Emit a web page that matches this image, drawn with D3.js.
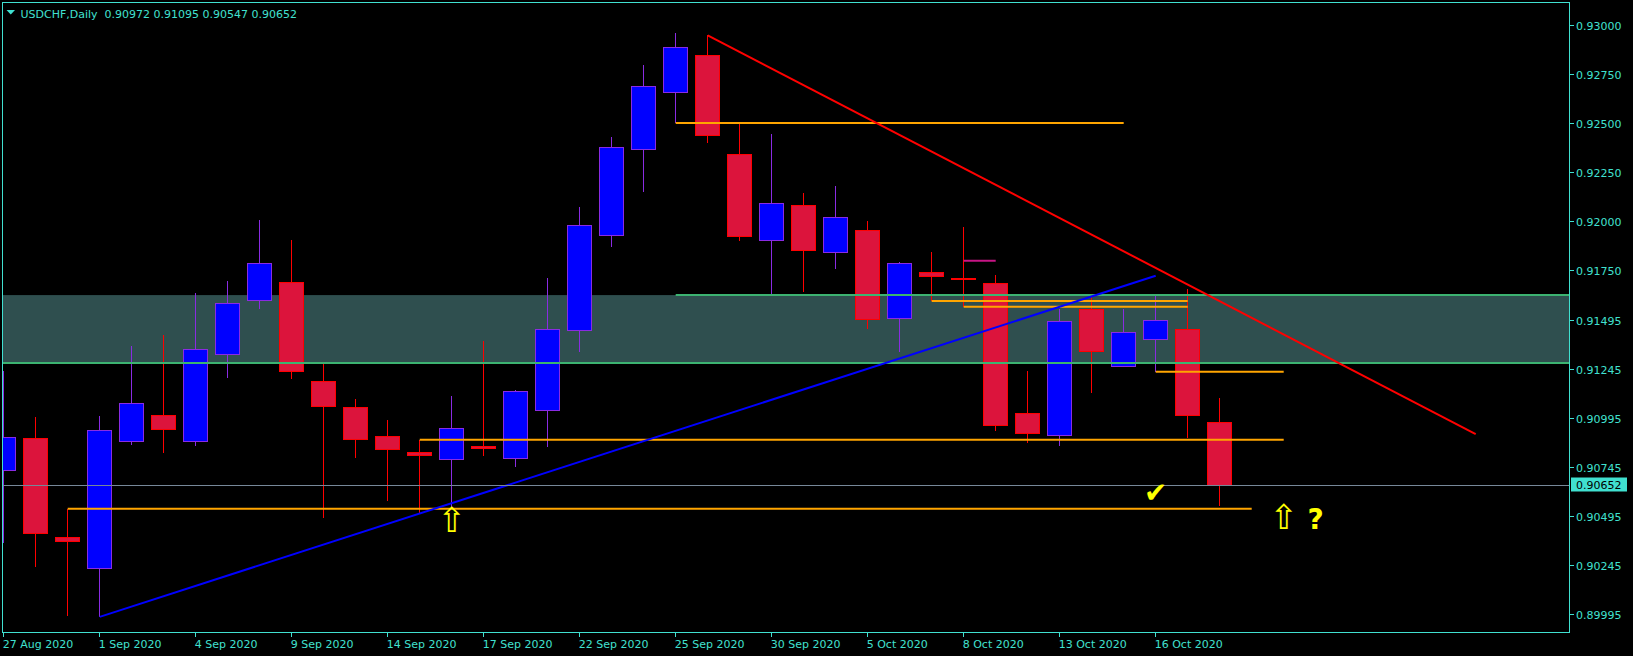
<!DOCTYPE html>
<html><head><meta charset="utf-8">
<script src="https://cdn.jsdelivr.net/npm/d3@7/dist/d3.min.js"></script>
<style>html,body{margin:0;padding:0;background:#000;overflow:hidden}</style>
</head><body>
<svg id="c" width="1633" height="656"></svg>
<script>
// ---------- data ----------
const dates = ["27 Aug 2020","28 Aug 2020","31 Aug 2020","1 Sep 2020","2 Sep 2020","3 Sep 2020","4 Sep 2020","7 Sep 2020","8 Sep 2020","9 Sep 2020","10 Sep 2020","11 Sep 2020","14 Sep 2020","15 Sep 2020","16 Sep 2020","17 Sep 2020","18 Sep 2020","21 Sep 2020","22 Sep 2020","23 Sep 2020","24 Sep 2020","25 Sep 2020","28 Sep 2020","29 Sep 2020","30 Sep 2020","1 Oct 2020","2 Oct 2020","5 Oct 2020","6 Oct 2020","7 Oct 2020","8 Oct 2020","9 Oct 2020","12 Oct 2020","13 Oct 2020","14 Oct 2020","15 Oct 2020","16 Oct 2020","19 Oct 2020","20 Oct 2020"];
const open  = [0.90728,0.90891,0.90383,0.90226,0.90874,0.91010,0.90874,0.91320,0.91593,0.91684,0.91179,0.91051,0.90903,0.90821,0.90784,0.90852,0.90789,0.91034,0.91442,0.91927,0.92366,0.92657,0.92842,0.92337,0.91902,0.92077,0.91840,0.91949,0.91505,0.91738,0.91709,0.91682,0.91019,0.90907,0.91546,0.91257,0.91396,0.91448,0.90972];
const high  = [0.91235,0.91000,0.90532,0.91005,0.91362,0.91418,0.91633,0.91694,0.92005,0.91903,0.91274,0.91092,0.90985,0.90884,0.91107,0.91388,0.91138,0.91711,0.92071,0.92429,0.92796,0.92959,0.92947,0.92495,0.92444,0.92143,0.92179,0.92000,0.91792,0.91842,0.91969,0.91725,0.91235,0.91551,0.91612,0.91551,0.91623,0.91652,0.91095];
const low   = [0.90359,0.90236,0.89986,0.89980,0.90857,0.90818,0.90852,0.91200,0.91551,0.91194,0.90486,0.90792,0.90573,0.90512,0.90542,0.90803,0.90746,0.90849,0.91333,0.91869,0.92150,0.92499,0.92400,0.91900,0.91628,0.91639,0.91757,0.91448,0.91330,0.91593,0.91560,0.90930,0.90869,0.90854,0.91124,0.91257,0.91231,0.90894,0.90547];
const close = [0.90896,0.90405,0.90364,0.90932,0.91070,0.90935,0.91345,0.91580,0.91781,0.91231,0.91053,0.90884,0.90833,0.90803,0.90942,0.90838,0.91131,0.91448,0.91978,0.92376,0.92687,0.92886,0.92435,0.91920,0.92087,0.91849,0.92020,0.91499,0.91784,0.91716,0.91700,0.90956,0.90915,0.91488,0.91333,0.91432,0.91493,0.91007,0.90652];

const xTickIdx = [0,3,6,9,12,15,18,21,24,27,30,33,36];
const yTickValues = [0.93000,0.92750,0.92500,0.92250,0.92000,0.91750,0.91495,0.91245,0.90995,0.90745,0.90495,0.90245,0.89995];
const yTickLabels = ["0.93000","0.92750","0.92500","0.92250","0.92000","0.91750","0.91495","0.91245","0.90995","0.90745","0.90495","0.90245","0.89995"];

const symbol = "USDCHF,Daily";
const bid = 0.90652;

// zone (rectangle) and its edge lines
const zoneTop = 0.91622, zoneBottom = 0.91276;
const zoneTopLineStart = 21;

// orange horizontal levels
const orangeLevel = [0.92500,0.91592,0.91563,0.91231,0.90884,0.90532];
const orangeStart = [21,29,30,36,13,2];
const orangeEnd   = [35,37,37,40,40,39];

// magenta short level
const magentaLevel = [0.91797], magentaStart = [30], magentaEnd = [31];

// trend lines
const redTrend  = [[22,0.92947],[46,0.90913]];
const blueTrend = [[3,0.89980],[36,0.91721]];

// annotations
const arrowIdx = [14,40], arrowPrice = [0.90526,0.90540];
const checkIdx = 36, checkPrice = 0.90668;
const questionIdx = 41, questionPrice = 0.90540;

// ---------- drawing ----------
const W = 1633, H = 656;
const L = 2.5, T = 2.5, R = 1569.5, B = 632.5;
const fg = "#40E0D0";
const font = "DejaVu Sans";

const x = d3.scaleLinear().domain([0, 48]).range([3.7, 3.7 + 32*48]);
const y = d3.scaleLinear().domain([0.93, 0.8975]).range([25, 25 + 13*49]);

const svg = d3.select("#c");
svg.append("rect").attr("width", W).attr("height", H).attr("fill", "#000");

const defs = svg.append("defs");
defs.append("clipPath").attr("id", "plot").append("rect")
  .attr("x", L).attr("y", T).attr("width", R - L).attr("height", B - T);

const g = svg.append("g").attr("clip-path", "url(#plot)");

// zone fill
g.append("rect").attr("x", L).attr("width", R - L)
  .attr("y", y(zoneTop)).attr("height", y(zoneBottom) - y(zoneTop))
  .attr("fill", "#2F4F4F");

// candles
const idx = d3.range(dates.length);
const cg = g.append("g").attr("shape-rendering", "crispEdges");
cg.selectAll("line.wick").data(idx).join("line").attr("class", "wick")
  .attr("x1", i => Math.floor(x(i)) + 0.5).attr("x2", i => Math.floor(x(i)) + 0.5)
  .attr("y1", i => y(high[i])).attr("y2", i => y(low[i]))
  .attr("stroke", i => close[i] >= open[i] ? "#8A2BE2" : "#FF0000").attr("stroke-width", 1);
cg.selectAll("rect.body").data(idx).join("rect").attr("class", "body")
  .attr("x", i => Math.floor(x(i)) - 11.5).attr("width", 24)
  .attr("y", i => y(Math.max(open[i], close[i])))
  .attr("height", i => Math.max(1, Math.abs(y(open[i]) - y(close[i]))))
  .attr("fill", i => close[i] >= open[i] ? "#0000FF" : "#DC143C")
  .attr("stroke", i => close[i] >= open[i] ? "#8A2BE2" : "#FF0000").attr("stroke-width", 1);

// zone edge lines
g.append("line").attr("x1", L).attr("x2", R).attr("y1", y(zoneBottom)).attr("y2", y(zoneBottom))
  .attr("stroke", "#3CB371").attr("stroke-width", 2);
g.append("line").attr("x1", x(zoneTopLineStart)).attr("x2", R).attr("y1", y(zoneTop)).attr("y2", y(zoneTop))
  .attr("stroke", "#3CB371").attr("stroke-width", 2);

// orange levels
g.selectAll("line.orange").data(orangeLevel).join("line").attr("class", "orange")
  .attr("x1", (d, k) => x(orangeStart[k])).attr("x2", (d, k) => x(orangeEnd[k]))
  .attr("y1", d => y(d)).attr("y2", d => y(d))
  .attr("stroke", "#FFA500").attr("stroke-width", 2);

// magenta level
g.selectAll("line.mag").data(magentaLevel).join("line").attr("class", "mag")
  .attr("x1", (d, k) => x(magentaStart[k])).attr("x2", (d, k) => x(magentaEnd[k]))
  .attr("y1", d => y(d)).attr("y2", d => y(d))
  .attr("stroke", "#C71585").attr("stroke-width", 2);

// trend lines
const ln = d3.line().x(d => x(d[0])).y(d => y(d[1]));
g.append("path").attr("d", ln(blueTrend)).attr("stroke", "#0000FF").attr("stroke-width", 2).attr("fill", "none");
g.append("path").attr("d", ln(redTrend)).attr("stroke", "#FF0000").attr("stroke-width", 2).attr("fill", "none");

// bid line
g.append("line").attr("x1", L).attr("x2", R).attr("y1", Math.round(y(bid)) + 0.5).attr("y2", Math.round(y(bid)) + 0.5)
  .attr("stroke", "#778899").attr("stroke-width", 1);

// annotations
g.selectAll("text.arrow").data(arrowIdx).join("text").attr("class", "arrow")
  .attr("x", i => x(i)).attr("y", (i, k) => y(arrowPrice[k]) + 22)
  .attr("text-anchor", "middle").attr("font-family", font).attr("font-size", 34)
  .attr("fill", "#FFFF00").text("⇧");
g.append("text").attr("x", x(checkIdx)).attr("y", y(checkPrice) + 20)
  .attr("text-anchor", "middle").attr("font-family", font).attr("font-size", 28)
  .attr("fill", "#FFFF00").text("✔");
g.append("text").attr("x", x(questionIdx)).attr("y", y(questionPrice) + 22)
  .attr("text-anchor", "middle").attr("font-family", font).attr("font-weight", "bold").attr("font-size", 28)
  .attr("fill", "#FFFF00").text("?");

// frame
svg.append("rect").attr("x", L).attr("y", T).attr("width", R - L).attr("height", B - T)
  .attr("fill", "none").attr("stroke", fg).attr("stroke-width", 1).attr("shape-rendering", "crispEdges");

// title
svg.append("path").attr("d", "M6.5,10 L15,10 L10.75,14.5 Z").attr("fill", fg);
svg.append("text").attr("x", 20.5).attr("y", 17.5).attr("font-family", font).attr("font-size", 11)
  .attr("fill", fg).attr("xml:space", "preserve").style("white-space", "pre")
  .text(`${symbol}  ${open[open.length-1].toFixed(5)} ${high[high.length-1].toFixed(5)} ${low[low.length-1].toFixed(5)} ${close[close.length-1].toFixed(5)}`);

// y axis
const ya = svg.append("g");
ya.selectAll("line").data(yTickValues).join("line")
  .attr("x1", R).attr("x2", R + 4).attr("y1", d => Math.round(y(d)) + 0.5).attr("y2", d => Math.round(y(d)) + 0.5)
  .attr("stroke", fg).attr("shape-rendering", "crispEdges");
ya.selectAll("text").data(yTickValues).join("text")
  .attr("x", 1576).attr("y", d => Math.round(y(d)) + 4.5)
  .attr("font-family", font).attr("font-size", 11).attr("fill", fg)
  .text((d, k) => yTickLabels[k]);

// bid label
ya.append("rect").attr("x", 1571).attr("y", Math.round(y(bid)) - 7.5).attr("width", 56).attr("height", 14).attr("fill", fg);
ya.append("text").attr("x", 1576).attr("y", Math.round(y(bid)) + 4)
  .attr("font-family", font).attr("font-size", 11).attr("fill", "#000").text(bid.toFixed(5));

// x axis
const xa = svg.append("g");
xa.selectAll("line").data(xTickIdx).join("line")
  .attr("x1", i => Math.floor(x(i)) + 0.5).attr("x2", i => Math.floor(x(i)) + 0.5)
  .attr("y1", B).attr("y2", B + 4).attr("stroke", fg).attr("shape-rendering", "crispEdges");
xa.selectAll("text").data(xTickIdx).join("text")
  .attr("x", i => x(i) - 1).attr("y", 648)
  .attr("font-family", font).attr("font-size", 11).attr("fill", fg)
  .text(i => dates[i]);
</script>
</body></html>
